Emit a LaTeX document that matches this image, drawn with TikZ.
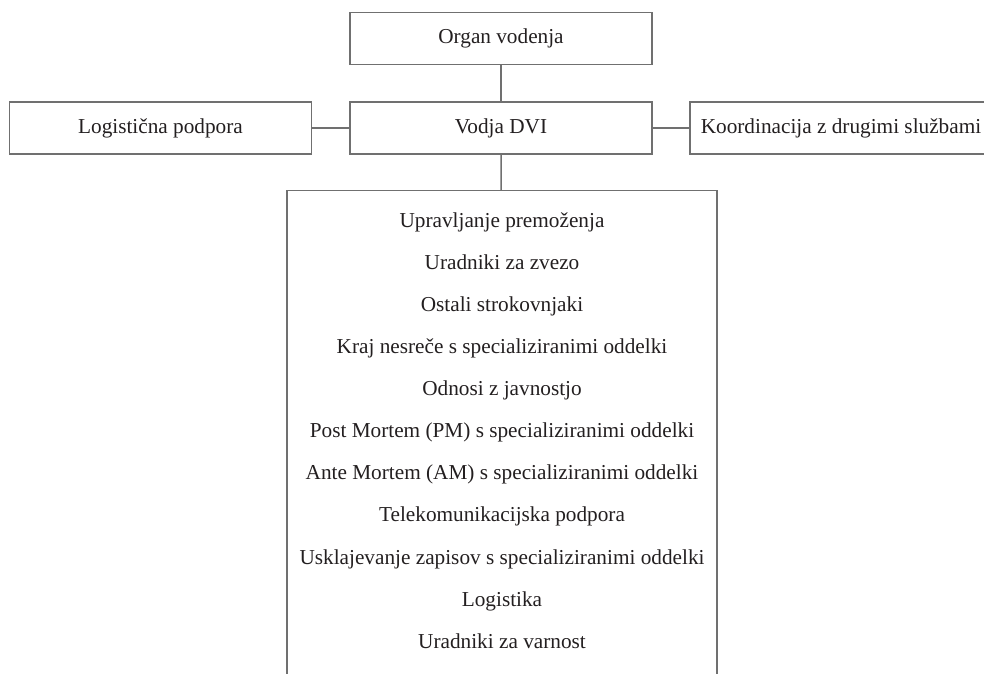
\documentclass[tikz,border=0pt]{standalone}
\usepackage{fontspec}
\setmainfont{Liberation Serif}
\definecolor{linegray}{RGB}{112,112,112}
\definecolor{txt}{RGB}{35,31,32}
\tikzset{
  box/.style={draw=linegray, line width=0.8pt, rectangle, text=txt,
    minimum width=6.04cm, minimum height=1.04cm, inner sep=0pt,
    text height=8.6pt, text depth=2.6pt,
    font=\fontsize{12.1}{14}\selectfont},
  item/.style={text=txt, inner sep=0pt, text height=8.6pt, text depth=2.6pt,
    font=\fontsize{12.1}{14}\selectfont},
  link/.style={draw=linegray, line width=0.8pt}
}
\begin{document}
\begin{tikzpicture}[x=0.02cm, y=-0.02cm]

\useasboundingbox (0,0) rectangle (984,673);
\clip (0,0) rectangle (984,673);

\node[box] (organ) at (501,38.5) {Organ vodenja};
\node[box] (vodja) at (501,128) {Vodja DVI};
\node[box] (logist) at (160.5,128) {Logistična podpora};
\node[box] (koord) at (841,128) {Koordinacija z drugimi službami};

\node[box, anchor=north, minimum width=8.6cm, minimum height=10.4cm] (tasks) at (502,190) {};

\foreach \txt [count=\i] in {Upravljanje premoženja, Uradniki za zvezo,
    Ostali strokovnjaki, Kraj nesreče s specializiranimi oddelki,
    Odnosi z javnostjo, Post Mortem (PM) s specializiranimi oddelki,
    Ante Mortem (AM) s specializiranimi oddelki, Telekomunikacijska podpora,
    Usklajevanje zapisov s specializiranimi oddelki, Logistika,
    Uradniki za varnost}
  \node[item] (item\i) at (502,{222+42.1*(\i-1)}) {\txt};

\draw[link] (organ) -- (vodja);
\draw[link] (vodja) -- (tasks);
\draw[link] (logist) -- (vodja);
\draw[link] (vodja) -- (koord);

\end{tikzpicture}
\end{document}
